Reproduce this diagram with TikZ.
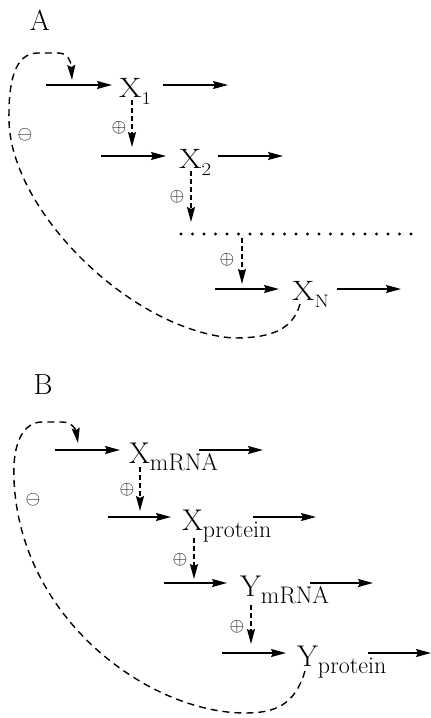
\RequirePackage{fix-cm}
\documentclass[tikz,border=0pt]{standalone}
\usepackage{graphicx}
\usetikzlibrary{arrows.meta}
\tikzset{
  flow/.style={line width=1.6pt, -{Stealth[length=15pt,width=8pt,inset=2pt]}},
  act/.style={line width=1.6pt, dash pattern=on 5pt off 3pt, -{Stealth[length=15pt,width=8pt,inset=2pt]}},
  fb/.style={line width=1.4pt, dash pattern=on 7pt off 5pt, -{Stealth[length=15pt,width=8pt,inset=2pt]}},
  dotrow/.style={line width=3.2pt, line cap=round, dash pattern=on 0pt off 11.5pt},
  sp/.style={anchor=base west, inner sep=0pt},
  sign/.style={font=\fontsize{19}{19}\selectfont, inner sep=0pt},
  panel/.style={font=\fontsize{29}{29}\selectfont, inner sep=0pt}
}
\newcommand{\spA}[2]{\scalebox{1.15}[1]{\fontsize{28}{28}\selectfont #1\raisebox{-7pt}{\fontsize{18}{18}\selectfont #2}}}
\newcommand{\spB}[2]{\fontsize{30}{30}\selectfont #1\raisebox{-7pt}{\fontsize{24}{24}\selectfont #2}}
\begin{document}
\begin{tikzpicture}[x=1pt,y=-1pt]
\useasboundingbox (0,0) rectangle (431,718);
% ---------------- Panel A ----------------
\node[panel] (pA) at (40,20) {A};
% row 1
\node[sp] (x1) at (119,97) {\spA{X}{1}};
\coordinate (x1i) at (46,85); \coordinate (x1ie) at (112,85);
\coordinate (x1o) at (163,85); \coordinate (x1oe) at (228,85);
\draw[flow] (x1i) -- (x1ie);
\draw[flow] (x1o) -- (x1oe);
\coordinate (x1d) at (132,100); \coordinate (x1de) at (132,147);
\draw[act] (x1d) -- (x1de);
\node[sign] (pa1) at (119,128) {$\oplus$};
% row 2
\node[sp] (x2) at (179,168) {\spA{X}{2}};
\coordinate (x2i) at (101,156); \coordinate (x2ie) at (166,156);
\coordinate (x2o) at (218,156); \coordinate (x2oe) at (283,156);
\draw[flow] (x2i) -- (x2ie);
\draw[flow] (x2o) -- (x2oe);
\coordinate (x2d) at (191,171); \coordinate (x2de) at (191,222);
\draw[act] (x2d) -- (x2de);
\node[sign] (pa2) at (177,197) {$\oplus$};
% dots
\coordinate (dl) at (181,234); \coordinate (dr) at (411,234);
\draw[dotrow] (dl) -- (dr);
\coordinate (xdd) at (242,238); \coordinate (xdde) at (242,284);
\draw[act] (xdd) -- (xdde);
\node[sign] (pa3) at (227,260) {$\oplus$};
% row N
\node[sp] (xn) at (292,300) {\spA{X}{N}};
\coordinate (xni) at (215,289); \coordinate (xnie) at (279,289);
\coordinate (xno) at (337,289); \coordinate (xnoe) at (401,289);
\draw[flow] (xni) -- (xnie);
\draw[flow] (xno) -- (xnoe);
% feedback
\coordinate (fa0) at (300,304); \coordinate (fa1) at (72,80);
\draw[fb] (fa0) .. controls (292,333) and (265,338) .. (233,338)
  .. controls (130,330) and (10,210) .. (9,120)
  .. controls (8,70) and (20,53) .. (38,53) -- (58,53)
  .. controls (67,53) and (71,60) .. (fa1);
\node[sign] (ma) at (25,135) {$\ominus$};
% ---------------- Panel B ----------------
\node[panel] (pB) at (43,385) {B};
% row 1
\node[sp] (ym1) at (129,463) {\spB{X}{mRNA}};
\coordinate (b1i) at (55,450); \coordinate (b1ie) at (120,450);
\coordinate (b1o) at (199,450); \coordinate (b1oe) at (263,450);
\draw[flow] (b1i) -- (b1ie);
\draw[flow] (b1o) -- (b1oe);
\coordinate (b1d) at (140,467); \coordinate (b1de) at (140,511);
\draw[act] (b1d) -- (b1de);
\node[sign] (pb1) at (127,490) {$\oplus$};
% row 2
\node[sp] (ym2) at (182,530) {\spB{X}{protein}};
\coordinate (b2i) at (108,517); \coordinate (b2ie) at (171,517);
\coordinate (b2o) at (253,517); \coordinate (b2oe) at (316,517);
\draw[flow] (b2i) -- (b2ie);
\draw[flow] (b2o) -- (b2oe);
\coordinate (b2d) at (194,538); \coordinate (b2de) at (194,579);
\draw[act] (b2d) -- (b2de);
\node[sign] (pb2) at (180,560) {$\oplus$};
% row 3
\node[sp] (ym3) at (240,596) {\spB{Y}{mRNA}};
\coordinate (b3i) at (164,583); \coordinate (b3ie) at (227,583);
\coordinate (b3o) at (310,583); \coordinate (b3oe) at (373,583);
\draw[flow] (b3i) -- (b3ie);
\draw[flow] (b3o) -- (b3oe);
\coordinate (b3d) at (251,605); \coordinate (b3de) at (251,644);
\draw[act] (b3d) -- (b3de);
\node[sign] (pb3) at (237,627) {$\oplus$};
% row 4
\node[sp] (ym4) at (297,666) {\spB{Y}{protein}};
\coordinate (b4i) at (222,653); \coordinate (b4ie) at (286,653);
\coordinate (b4o) at (368,653); \coordinate (b4oe) at (431,653);
\draw[flow] (b4i) -- (b4ie);
\draw[flow] (b4o) -- (b4oe);
% feedback
\coordinate (fb0) at (305,671); \coordinate (fb1) at (78,443);
\draw[fb] (fb0) .. controls (295,705) and (275,713) .. (245,713)
  .. controls (150,713) and (20,620) .. (14,480)
  .. controls (12,440) and (25,422) .. (42,422) -- (62,422)
  .. controls (72,422) and (76,430) .. (fb1);
\node[sign] (mb) at (33,500) {$\ominus$};
\end{tikzpicture}
\end{document}
